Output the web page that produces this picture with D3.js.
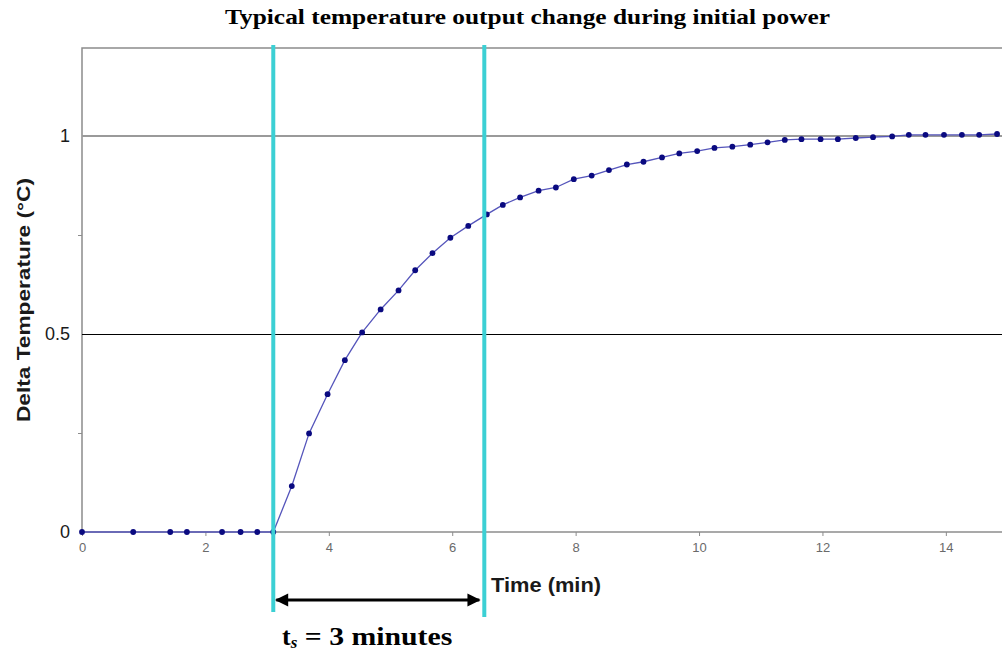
<!DOCTYPE html>
<html>
<head>
<meta charset="utf-8">
<script src="https://cdn.jsdelivr.net/npm/d3@7"></script>
<style>
  body { margin: 0; background: #fff; }
  svg { display: block; }
</style>
</head>
<body>
<script>
var width = 1002, height = 655;

// data
var timeMin = [0, 0.83, 1.43, 1.70, 2.27, 2.57, 2.84, 3.10,
    3.40, 3.68, 3.98, 4.26, 4.54, 4.84, 5.13, 5.40, 5.68, 5.97,
    6.26, 6.56, 6.82, 7.10, 7.40, 7.68, 7.97, 8.26, 8.54, 8.83,
    9.10, 9.40, 9.68, 9.97, 10.25, 10.54, 10.83, 11.11, 11.39, 11.66,
    11.97, 12.25, 12.54, 12.82, 13.13, 13.40, 13.67, 13.97, 14.26, 14.54, 14.83];
var deltaT = [0, 0, 0, 0, 0, 0, 0, 0,
    0.116, 0.249, 0.348, 0.434, 0.504, 0.562, 0.610, 0.661, 0.704, 0.743,
    0.773, 0.802, 0.826, 0.845, 0.862, 0.870, 0.891, 0.900, 0.914, 0.928,
    0.935, 0.946, 0.956, 0.962, 0.970, 0.973, 0.978, 0.984, 0.990, 0.992,
    0.992, 0.992, 0.995, 0.997, 0.999, 1.003, 1.003, 1.003, 1.003, 1.003, 1.005];
var xTicks = [0, 2, 4, 6, 8, 10, 12, 14];
var yTicks = [0, 0.5, 1];
var yMinor = [0.25, 0.75];
var markers = [3.1, 6.52];   // cyan settling-time lines (min)

var x = d3.scaleLinear().domain([0, 14.91]).range([82, 1002]);
var y = d3.scaleLinear().domain([0, 1]).range([532, 136]);
var yTop = 1.222;

var svg = d3.select("body").append("svg")
    .attr("width", width)
    .attr("height", height);

var sans = "'Liberation Sans', Arial, sans-serif";
var serif = "'Liberation Serif', 'Times New Roman', serif";

// title
svg.append("text")
    .attr("x", 225).attr("y", 24)
    .attr("textLength", 605)
    .attr("lengthAdjust", "spacingAndGlyphs")
    .style("font-family", serif)
    .style("font-weight", "bold")
    .style("font-size", "21px")
    .text("Typical temperature output change during initial power");

// frame (top + left)
svg.append("path")
    .attr("d", "M" + x(0) + "," + y(0) + "V" + y(yTop) + "H" + width)
    .attr("fill", "none")
    .attr("stroke", "#8c8c8c")
    .attr("stroke-width", 1.5);

// gridlines
svg.append("line")
    .attr("x1", x(0)).attr("x2", width)
    .attr("y1", y(1)).attr("y2", y(1))
    .attr("stroke", "#9a9a9a").attr("stroke-width", 2.2);
svg.append("line")
    .attr("x1", x(0)).attr("x2", width)
    .attr("y1", Math.round(y(0.5)) + 0.5).attr("y2", Math.round(y(0.5)) + 0.5)
    .attr("stroke", "#000").attr("stroke-width", 1);

// x axis
var xAxis = svg.append("g")
    .attr("transform", "translate(0," + y(0) + ")")
    .call(d3.axisBottom(x).tickValues(xTicks).tickSize(4).tickPadding(7).tickFormat(d3.format("d")));
xAxis.select(".domain").attr("stroke", "#8c8c8c").attr("stroke-width", 1.5).attr("d", "M" + x(0) + ",0H" + width);
xAxis.selectAll(".tick line").attr("stroke", "#8c8c8c");
xAxis.selectAll(".tick text")
    .attr("fill", "#6a6a6a")
    .style("font-family", sans)
    .style("font-size", "13px");

// y axis
var yAxis = svg.append("g")
    .attr("transform", "translate(" + x(0) + ",0)")
    .call(d3.axisLeft(y).tickValues(yTicks).tickSize(0).tickPadding(12).tickFormat(function(d) { return d; }));
yAxis.select(".domain").remove();
yAxis.selectAll(".tick text")
    .attr("fill", "#1a1a1a")
    .style("font-family", sans)
    .style("font-size", "18px");
svg.append("g")
    .attr("transform", "translate(" + x(0) + ",0)")
    .call(d3.axisLeft(y).tickValues(yMinor).tickSize(4).tickFormat(""))
    .call(function(g) { g.select(".domain").remove(); g.selectAll("line").attr("stroke", "#8c8c8c"); });

// axis titles
svg.append("text")
    .attr("transform", "translate(30,300) rotate(-90)")
    .attr("text-anchor", "middle")
    .attr("textLength", 244)
    .attr("lengthAdjust", "spacingAndGlyphs")
    .style("font-family", sans)
    .style("font-weight", "bold")
    .style("font-size", "19px")
    .attr("fill", "#1a1a1a")
    .text("Delta Temperature (\u00B0C)");
svg.append("text")
    .attr("x", 491).attr("y", 592)
    .attr("textLength", 110)
    .attr("lengthAdjust", "spacingAndGlyphs")
    .style("font-family", sans)
    .style("font-weight", "bold")
    .style("font-size", "20px")
    .attr("fill", "#1a1a1a")
    .text("Time (min)");

// data line + markers
var pts = timeMin.map(function(t, i) { return [t, deltaT[i]]; });
var line = d3.line().x(function(d) { return x(d[0]); }).y(function(d) { return y(d[1]); });
svg.append("path")
    .datum(pts)
    .attr("d", line)
    .attr("fill", "none")
    .attr("stroke", "#5555bb")
    .attr("stroke-width", 1.3);
svg.append("g").selectAll("circle")
    .data(pts)
    .enter().append("circle")
    .attr("cx", function(d) { return x(d[0]); })
    .attr("cy", function(d) { return y(d[1]); })
    .attr("r", 2.9)
    .attr("fill", "#0a0a80");

// cyan markers
svg.selectAll(".cyan")
    .data(markers)
    .enter().append("line")
    .attr("class", "cyan")
    .attr("x1", function(d) { return x(d); }).attr("x2", function(d) { return x(d); })
    .attr("y1", 45)
    .attr("y2", function(d, i) { return i ? 617 : 612; })
    .attr("stroke", "#3cd0d4")
    .attr("stroke-width", 4);

// double arrow
var defs = svg.append("defs");
defs.append("marker")
    .attr("id", "ah")
    .attr("viewBox", "0 0 10 10")
    .attr("refX", 9).attr("refY", 5)
    .attr("markerWidth", 6).attr("markerHeight", 4.4)
    .attr("orient", "auto-start-reverse")
    .attr("markerUnits", "strokeWidth")
    .append("path")
    .attr("d", "M0,0L10,5L0,10Z")
    .attr("fill", "#000");
svg.append("line")
    .attr("x1", x(markers[0]) + 3).attr("x2", x(markers[1]) - 5)
    .attr("y1", 600).attr("y2", 600)
    .attr("stroke", "#000").attr("stroke-width", 3)
    .attr("marker-start", "url(#ah)")
    .attr("marker-end", "url(#ah)");

// settling time label
var lbl = svg.append("text")
    .attr("x", 282).attr("y", 645)
    .style("font-family", serif)
    .style("font-weight", "bold")
    .style("font-size", "26px");
lbl.append("tspan").text("t");
lbl.append("tspan").attr("dy", 3).style("font-size", "17px").style("font-style", "italic").text("s");
lbl.append("tspan").attr("dy", -3).text(" = 3 minutes")
    .attr("textLength", 155).attr("lengthAdjust", "spacingAndGlyphs");
</script>
</body>
</html>
